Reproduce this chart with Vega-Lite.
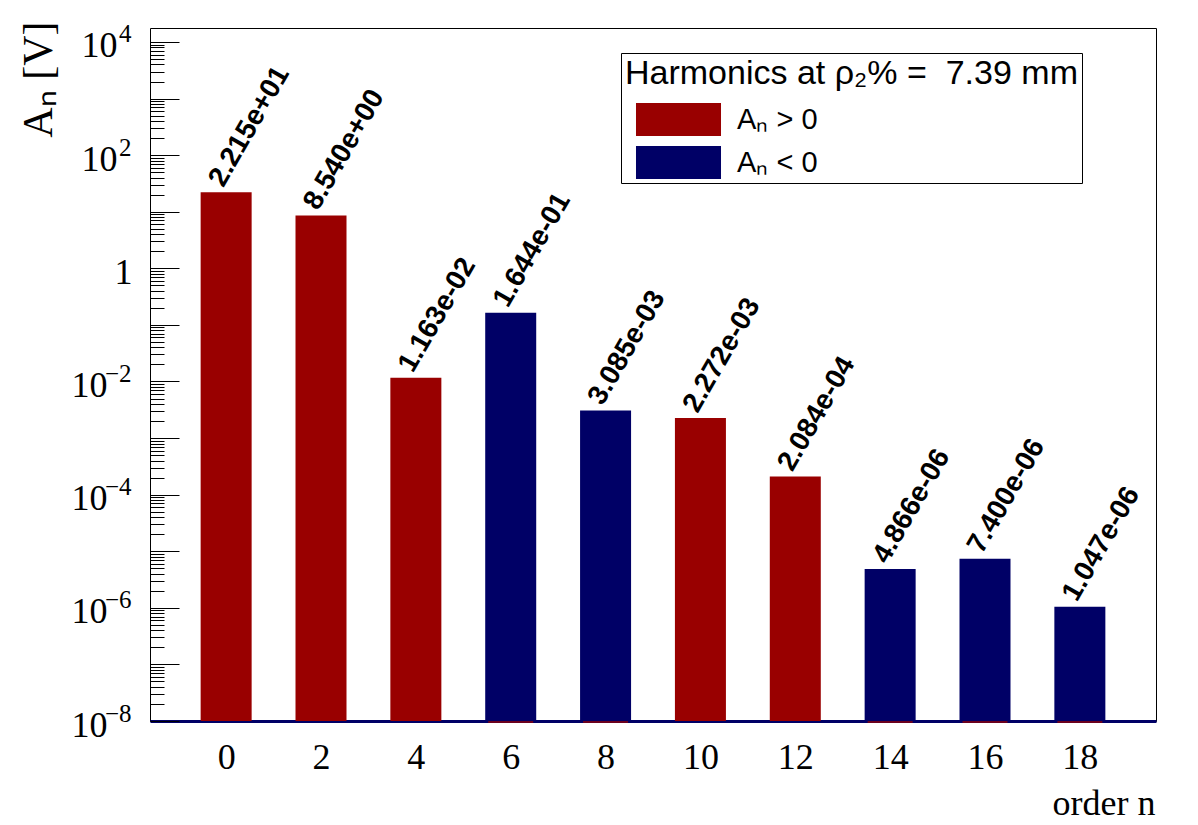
{
  "$schema": "https://vega.github.io/schema/vega-lite/v6.json",
  "description": "Harmonics amplitudes by order n, log scale",
  "width": 1006,
  "height": 693,
  "autosize": {"type": "none"},
  "padding": {"left": 150, "top": 28, "right": 42, "bottom": 104},
  "background": "white",
  "config": {"view": {"stroke": "black", "strokeWidth": 1}, "font": "Liberation Sans"},
  "data": {
    "values": [
      {"n": 0, "amp": 22.15, "label": "2.215e+01", "sign": "Aₙ > 0"},
      {"n": 2, "amp": 8.54, "label": "8.540e+00", "sign": "Aₙ > 0"},
      {"n": 4, "amp": 0.01163, "label": "1.163e-02", "sign": "Aₙ > 0"},
      {"n": 6, "amp": 0.1644, "label": "1.644e-01", "sign": "Aₙ < 0"},
      {"n": 8, "amp": 0.003085, "label": "3.085e-03", "sign": "Aₙ < 0"},
      {"n": 10, "amp": 0.002272, "label": "2.272e-03", "sign": "Aₙ > 0"},
      {"n": 12, "amp": 0.0002084, "label": "2.084e-04", "sign": "Aₙ > 0"},
      {"n": 14, "amp": 4.866e-6, "label": "4.866e-06", "sign": "Aₙ < 0"},
      {"n": 16, "amp": 7.4e-6, "label": "7.400e-06", "sign": "Aₙ < 0"},
      {"n": 18, "amp": 1.047e-6, "label": "1.047e-06", "sign": "Aₙ < 0"}
    ]
  },
  "layer": [
    {
      "mark": {"type": "bar", "size": 51},
      "encoding": {
        "x": {
          "field": "n",
          "type": "quantitative",
          "scale": {"domain": [-1.5, 19.5], "nice": false, "zero": false},
          "axis": {
            "values": [0, 2, 4, 6, 8, 10, 12, 14, 16, 18],
            "format": "d",
            "title": "order n",
            "titleFont": "Liberation Serif",
            "titleFontSize": 36,
            "titleFontWeight": "normal",
            "titleColor": "black",
            "titleX": 1005,
            "titleY": 93,
            "titleAlign": "right",
            "titleBaseline": "alphabetic",
            "labelFont": "Liberation Serif",
            "labelFontSize": 36,
            "labelColor": "black",
            "labelPadding": 19,
            "labelFlush": false,
            "labelOverlap": false,
            "ticks": false,
            "grid": false,
            "domainColor": "#000066",
            "domainWidth": 3
          }
        },
        "y": {
          "field": "amp",
          "type": "quantitative",
          "scale": {"type": "log", "domain": [1e-8, 17660], "nice": false},
          "axis": {
            "orient": "left",
            "values": [1e-8, 1e-7, 1e-6, 1e-5, 1e-4, 1e-3, 1e-2, 1e-1, 1, 10, 100, 1000, 10000],
            "title": "Aₙ [V]",
            "titleFont": "Liberation Serif",
            "titleFontSize": 42,
            "titleFontWeight": "normal",
            "titleColor": "black",
            "titleAngle": -90,
            "titleAlign": "right",
            "titleBaseline": "alphabetic",
            "titleX": -99,
            "titleY": -7,
            "domain": false,
            "grid": false,
            "ticks": true,
            "tickSize": -29,
            "tickColor": "black",
            "tickWidth": 1,
            "labelFont": "Liberation Serif",
            "labelFontSize": 36,
            "labelColor": "black",
            "labelAlign": "right",
            "labelBaseline": "middle",
            "labelOffset": 4,
            "labelFlush": false,
            "labelOverlap": false,
            "labelExpr": "datum.value > 0.5 && datum.value < 2 ? '1' : (abs(round(log(datum.value) / LN10)) % 2 == 0 ? '10' : '')",
            "labelPadding": {
              "condition": [
                {"test": "datum.value > 0.5 && datum.value < 2", "value": 47},
                {"test": "datum.value < 0.5", "value": 72}
              ],
              "value": 62
            }
          }
        },
        "y2": {"datum": 1e-8},
        "color": {
          "field": "sign",
          "type": "nominal",
          "scale": {"domain": ["Aₙ > 0", "Aₙ < 0"], "range": ["#990000", "#000066"]},
          "legend": {
            "orient": "none",
            "legendX": 471,
            "legendY": 25,
            "title": "\u00a0Harmonics at ρ₂%\u00a0=\u00a0\u00a07.39 mm",
            "titleFont": "Liberation Sans",
            "titleFontSize": 34,
            "titleFontWeight": "normal",
            "titleColor": "black",
            "titlePadding": 12,
            "titleLimit": 1000,
            "labelFont": "Liberation Sans",
            "labelFontSize": 29,
            "labelColor": "black",
            "labelOffset": 42,
            "symbolType": "M-2.576,-1H2.576V1H-2.576Z",
            "symbolSize": 1089,
            "symbolStrokeWidth": 0,
            "symbolOffset": 37,
            "rowPadding": 10,
            "padding": 4,
            "strokeColor": "black",
            "fillColor": "white",
            "cornerRadius": 0
          }
        }
      }
    },
    {
      "mark": {
        "type": "text",
        "angle": -60,
        "align": "left",
        "baseline": "alphabetic",
        "font": "Liberation Sans",
        "fontWeight": "bold",
        "fontSize": 28,
        "color": "black",
        "xOffset": -3,
        "yOffset": -4
      },
      "encoding": {
        "x": {"field": "n", "type": "quantitative"},
        "y": {
          "field": "amp",
          "type": "quantitative",
          "axis": {
            "orient": "left",
            "title": null,
            "domain": false,
            "labels": false,
            "grid": false,
            "ticks": true,
            "tickSize": -14,
            "tickColor": "black",
            "tickWidth": 1,
            "values": [
              2e-8, 3e-8, 4e-8, 5e-8, 6e-8, 7e-8, 8e-8, 9e-8,
              2e-7, 3e-7, 4e-7, 5e-7, 6e-7, 7e-7, 8e-7, 9e-7,
              2e-6, 3e-6, 4e-6, 5e-6, 6e-6, 7e-6, 8e-6, 9e-6,
              2e-5, 3e-5, 4e-5, 5e-5, 6e-5, 7e-5, 8e-5, 9e-5,
              2e-4, 3e-4, 4e-4, 5e-4, 6e-4, 7e-4, 8e-4, 9e-4,
              2e-3, 3e-3, 4e-3, 5e-3, 6e-3, 7e-3, 8e-3, 9e-3,
              2e-2, 3e-2, 4e-2, 5e-2, 6e-2, 7e-2, 8e-2, 9e-2,
              0.2, 0.3, 0.4, 0.5, 0.6, 0.7, 0.8, 0.9,
              2, 3, 4, 5, 6, 7, 8, 9,
              20, 30, 40, 50, 60, 70, 80, 90,
              200, 300, 400, 500, 600, 700, 800, 900,
              2000, 3000, 4000, 5000, 6000, 7000, 8000, 9000
            ]
          }
        },
        "text": {"field": "label"}
      }
    },
    {
      "transform": [{"filter": "datum.sign == 'Aₙ < 0'"}],
      "mark": {"type": "tick", "orient": "horizontal", "thickness": 2, "size": 45, "color": "#990000", "yOffset": 1},
      "encoding": {
        "x": {"field": "n", "type": "quantitative"},
        "y": {
          "datum": 1e-8,
          "type": "quantitative",
          "axis": {
            "orient": "left",
            "title": null,
            "domain": false,
            "ticks": false,
            "grid": false,
            "values": [1e-8, 1e-6, 1e-4, 1e-2, 100, 10000],
            "labelFont": "Liberation Serif",
            "labelFontSize": 25,
            "labelColor": "black",
            "labelAlign": "right",
            "labelBaseline": "middle",
            "labelPadding": 19,
            "labelOffset": -8,
            "labelFlush": false,
            "labelOverlap": false,
            "labelExpr": "(datum.value < 1 ? '−' : '') + abs(round(log(datum.value) / LN10))"
          }
        }
      }
    }
  ],
  "resolve": {"axis": {"y": "independent"}}
}
